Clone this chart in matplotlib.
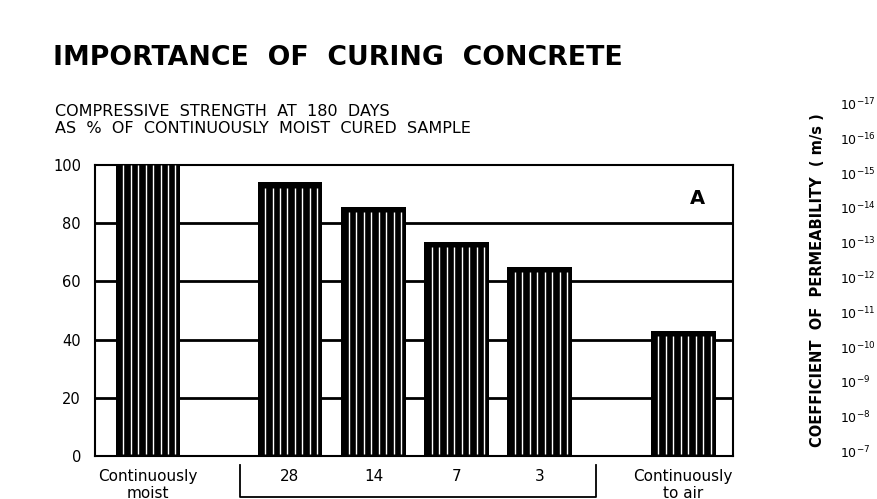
import numpy as np
import matplotlib
matplotlib.use("Agg")
import matplotlib.pyplot as plt

# valores
categorias = ["Continuously\nmoist", "28", "14", "7", "3", "Continuously\nto air"]
resistencia = [100, 94, 85.5, 73.5, 65, 43]
posicoes = [0, 1.71, 2.72, 3.72, 4.72, 6.45]
yticks = [0, 20, 40, 60, 80, 100]
perm_expoentes = [-17, -16, -15, -14, -13, -12, -11, -10, -9, -8, -7]

W, H = 877, 499
fig = plt.figure(figsize=(W / 100, H / 100), dpi=100)
ax = fig.add_axes([95 / W, 1 - 456 / H, 638 / W, 291 / H])

largura = 0.78
ax.bar(posicoes, resistencia, width=largura, color="black", linewidth=0, zorder=3)

# hachura branca vertical dentro das barras
for x, v in zip(posicoes, resistencia):
    topo = v if v >= 100 else v - 1.8
    xs = np.linspace(x - largura / 2 + 0.09, x + largura / 2 - 0.06, 8)
    ax.vlines(xs, 0.6, topo, colors="white", linewidth=1.0, zorder=4)

for y in [20, 40, 60, 80]:
    ax.axhline(y, color="black", linewidth=2, zorder=2)

ax.set_xlim(-0.64, 7.05)
ax.set_ylim(0, 100)
ax.set_yticks(yticks)
ax.set_yticklabels([str(t) for t in yticks], fontsize=10.5)
ax.tick_params(axis="y", length=0, pad=10)
ax.set_xticks([])
for s in ax.spines.values():
    s.set_linewidth(1.5)

ax.text(6.62, 88.5, "A", fontsize=14, fontweight="bold", ha="center", va="center")

# rotulos das categorias (a segunda linha fica cortada como no original)
for x, c in zip(posicoes, categorias):
    ax.text(x, -4.5, c, ha="center", va="top", fontsize=11, linespacing=1.15,
            clip_on=False)

# colchete sob os dias
bx0, bx1 = 1.11, 5.40
ax.plot([bx0, bx0, bx1, bx1], [-3, -14, -14, -3], color="black", linewidth=1.3,
        clip_on=False)

fig.text(53 / W, 1 - 58 / H, "IMPORTANCE  OF  CURING  CONCRETE", fontsize=19.3,
         fontweight="bold", ha="left", va="center")
fig.text(55 / W, 1 - 120 / H,
         "COMPRESSIVE  STRENGTH  AT  180  DAYS\nAS  %  OF  CONTINUOUSLY  MOIST  CURED  SAMPLE",
         fontsize=11.5, ha="left", va="center", linespacing=1.2)

# painel da direita (cortado)
y_topo, y_base = 105, 453
for i, e in enumerate(perm_expoentes):
    ypx = y_topo + (y_base - y_topo) * i / (len(perm_expoentes) - 1)
    fig.text(840 / W, 1 - ypx / H, f"10$^{{{e}}}$", fontsize=9,
             ha="left", va="center")
fig.text(818 / W, 1 - 280 / H, "COEFFICIENT  OF  PERMEABILITY  ( m/s )",
         rotation=90, fontsize=10.5, fontweight="bold", ha="center", va="center")

fig.savefig("out.png", dpi=100)
